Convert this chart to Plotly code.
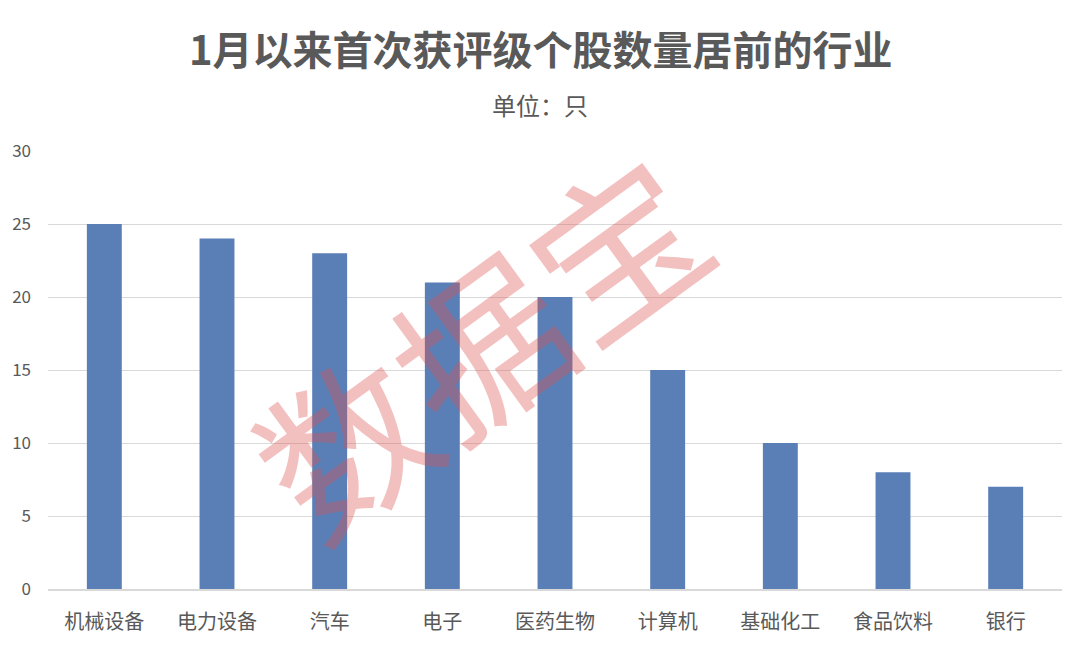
import plotly.graph_objects as go

categories = ["机械设备", "电力设备", "汽车", "电子", "医药生物", "计算机", "基础化工", "食品饮料", "银行"]
values = [25, 24, 23, 21, 20, 15, 10, 8, 7]
y_ticks = [0, 5, 10, 15, 20, 25, 30]

title_text = "1月以来首次获评级个股数量居前的行业"
subtitle_text = "单位：只"
watermark_text = "数据宝"

FONT = "Noto Sans CJK SC"

fig = go.Figure(go.Bar(
    x=categories, y=values,
    marker=dict(color="#5A7FB7", line=dict(width=0)),
    width=0.31,
))

fig.update_layout(
    width=1080, height=646,
    margin=dict(l=48, r=18, t=151, b=57),
    paper_bgcolor="white", plot_bgcolor="white",
    font=dict(family=FONT, color="#595959"),
    showlegend=False,
    bargap=0.69,
)

fig.update_xaxes(
    showgrid=False, showline=True, linecolor="#d9d9d9", linewidth=1.5,
    tickfont=dict(size=20, color="#595959", family=FONT),
    ticks="", ticklabelstandoff=14,
)
fig.update_yaxes(
    range=[0, 30], tickvals=y_ticks, showgrid=True, gridcolor="#d9d9d9", gridwidth=1.2,
    zeroline=False, showline=False,
    tickfont=dict(size=17, color="#595959", family=FONT),
    ticks="", ticklabelstandoff=16,
)

fig.add_annotation(
    text="<b>" + title_text + "</b>", xref="paper", yref="paper",
    x=0.5, y=1, yshift=103, xshift=-14, xanchor="center", yanchor="middle", showarrow=False,
    font=dict(size=40, color="#595959", family=FONT),
)
fig.add_annotation(
    text=subtitle_text, xref="paper", yref="paper",
    x=0.5, y=1, yshift=47, xshift=-15, xanchor="center", yanchor="middle", showarrow=False,
    font=dict(size=24, color="#595959", family=FONT),
)
fig.add_annotation(
    text=watermark_text, xref="paper", yref="paper",
    x=(477 - 48) / 1014, y=(589 - 340) / 438, xanchor="center", yanchor="middle",
    showarrow=False, textangle=-36,
    font=dict(size=168, color="rgba(222,80,80,0.36)", family=FONT),
)

fig.write_html("out.html", config={"displayModeBar": False},
               post_script="document.body.style.margin='0';")
